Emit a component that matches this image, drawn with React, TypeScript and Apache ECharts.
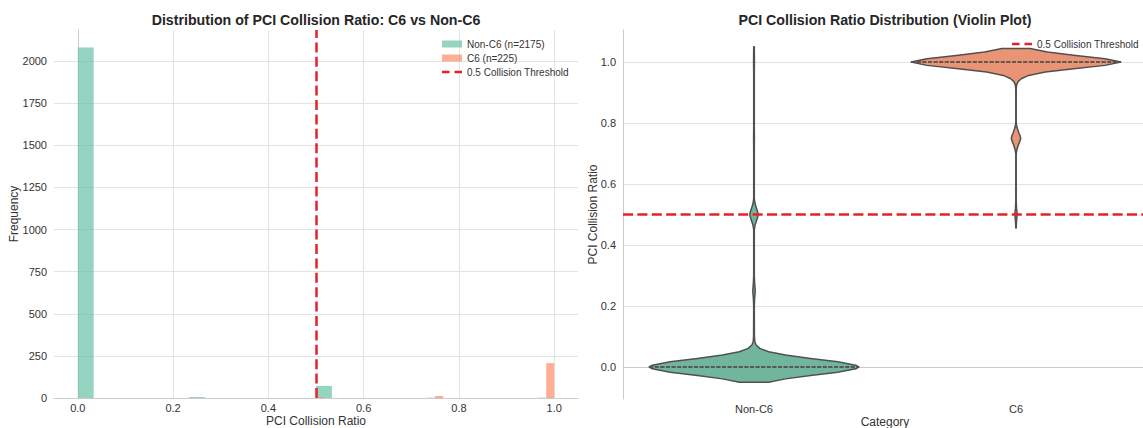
import React, { useEffect, useRef } from "react";
import * as echarts from "echarts";

const histTitle = "Distribution of PCI Collision Ratio: C6 vs Non-C6";
const violinTitle = "PCI Collision Ratio Distribution (Violin Plot)";
const categories = ["Non-C6", "C6"];
const histSeriesNames = ["Non-C6 (n=2175)", "C6 (n=225)"];
const thresholdName = "0.5 Collision Threshold";
const thresholdValue = 0.5;

// histogram bins: [bin start, bin end, count]
const nonC6Bins = [
  [0.0, 0.0333, 2080],
  [0.2333, 0.2667, 6],
  [0.5, 0.5333, 72],
  [0.7333, 0.7667, 2],
  [0.9667, 1.0, 2],
];
const c6Bins = [
  [0.5, 0.5167, 6],
  [0.75, 0.7667, 12],
  [0.9833, 1.0, 207],
];
const histXTicks = [0, 0.2, 0.4, 0.6, 0.8, 1.0];
const histYTicks = [0, 250, 500, 750, 1000, 1250, 1500, 1750, 2000];
const violinYTicks = [0, 0.2, 0.4, 0.6, 0.8, 1.0];

// violin outlines: [ratio value, relative width]
const nonC6Profile = [
  [-0.05, 0.14], [-0.039, 0.3], [-0.028, 0.54], [-0.017, 0.8], [-0.006, 0.97],
  [0.0, 1.0], [0.006, 0.97], [0.017, 0.8], [0.028, 0.54], [0.039, 0.3],
  [0.05, 0.14], [0.061, 0.055], [0.072, 0.02], [0.083, 0.008], [0.1, 0.004],
  [0.2, 0.003], [0.225, 0.006], [0.25, 0.012], [0.275, 0.006], [0.3, 0.003],
  [0.45, 0.003], [0.465, 0.01], [0.478, 0.022], [0.49, 0.034], [0.5, 0.04],
  [0.51, 0.034], [0.522, 0.022], [0.535, 0.01], [0.552, 0.003], [0.72, 0.003],
  [0.75, 0.004], [0.78, 0.003], [0.97, 0.003], [1.0, 0.004], [1.05, 0.003],
];
const c6Profile = [
  [0.456, 0.002], [0.48, 0.005], [0.49, 0.009], [0.5, 0.011], [0.51, 0.009],
  [0.52, 0.005], [0.545, 0.002], [0.7, 0.002], [0.715, 0.01], [0.73, 0.025],
  [0.74, 0.037], [0.75, 0.045], [0.76, 0.037], [0.77, 0.025], [0.785, 0.01],
  [0.8, 0.002], [0.91, 0.002], [0.925, 0.006], [0.935, 0.018], [0.945, 0.05],
  [0.956, 0.12], [0.967, 0.28], [0.978, 0.55], [0.989, 0.85], [1.0, 1.0],
  [1.011, 0.85], [1.022, 0.55], [1.033, 0.3], [1.044, 0.135],
];
const nonC6Quartiles = [0, 0, 0];
const c6Quartiles = [1, 1, 1];

const FONT = "'Liberation Sans', Arial, sans-serif";
const TEXT = "#333333";
const SPINE = "#cccccc";
const GRIDLINE = "#e3e3e3";
const RED = "#e8202a";
const HIST_COLORS = ["rgba(102,194,165,0.7)", "rgba(252,141,98,0.7)"];
const VIOLIN_COLORS = ["#71b69c", "#e99575"];
const OUTLINE = "#505050";
const DASH_ICON = "path://M0 0H7.5V2.6H0Z M12.5 0H20V2.6H12.5Z";

const profiles = [nonC6Profile, c6Profile];
const quartiles = [nonC6Quartiles, c6Quartiles];

function widthAt(profile: number[][], v: number): number {
  for (let i = 0; i < profile.length - 1; i++) {
    const [v0, w0] = profile[i];
    const [v1, w1] = profile[i + 1];
    if (v >= v0 && v <= v1) {
      const t = v1 === v0 ? 0 : (v - v0) / (v1 - v0);
      return w0 + (w1 - w0) * t;
    }
  }
  return 0;
}

export default function App() {
  const ref = useRef<HTMLDivElement>(null);

  useEffect(() => {
    if (!ref.current) return;
    const chart = echarts.init(ref.current, undefined, { renderer: "svg" });

    const histRender = (color: string) => (params: any, api: any) => {
      const p0 = api.coord([api.value(0), api.value(2)]);
      const p1 = api.coord([api.value(1), 0]);
      return {
        type: "rect",
        shape: { x: p0[0], y: p0[1], width: p1[0] - p0[0], height: p1[1] - p0[1] },
        style: { fill: color },
      };
    };

    const violinRender = (params: any, api: any) => {
      const idx = params.dataIndex;
      const prof = profiles[idx];
      const band = api.coord([1, 0])[0] - api.coord([0, 0])[0];
      const maxHW = band * 0.4;
      const cx = api.coord([idx, 0])[0];
      const rightSide = prof.map(([v, d]) => [cx + d * maxHW, api.coord([idx, v])[1]]);
      const leftSide = prof
        .slice()
        .reverse()
        .map(([v, d]) => [cx - d * maxHW, api.coord([idx, v])[1]]);
      const children: any[] = [
        {
          type: "polygon",
          shape: { points: rightSide.concat(leftSide) },
          style: { fill: VIOLIN_COLORS[idx], stroke: OUTLINE, lineWidth: 1.5, lineJoin: "round" },
        },
      ];
      quartiles[idx].forEach((q) => {
        const hw = widthAt(prof, q) * maxHW;
        const y = api.coord([idx, q])[1];
        children.push({
          type: "line",
          shape: { x1: cx - hw, y1: y, x2: cx + hw, y2: y },
          style: { stroke: OUTLINE, lineWidth: 1, lineDash: [4, 1.6] },
        });
      });
      return { type: "group", children };
    };

    const labelStyle = { color: TEXT, fontSize: 11, fontFamily: FONT };
    const nameStyle = { color: TEXT, fontSize: 12, fontFamily: FONT };
    const titleStyle = {
      fontSize: 14.2,
      fontWeight: "bold",
      fontFamily: FONT,
      fill: "#262626",
      align: "center",
      verticalAlign: "middle",
    };

    const option: any = {
      animation: false,
      textStyle: { fontFamily: FONT },
      graphic: [
        { type: "text", x: 316, y: 20, style: { ...titleStyle, text: histTitle } },
        { type: "text", x: 885, y: 20, style: { ...titleStyle, text: violinTitle } },
      ],
      legend: [
        {
          orient: "vertical",
          left: 437,
          top: 34,
          itemWidth: 20,
          itemHeight: 7,
          itemGap: 4,
          selectedMode: false,
          textStyle: { color: TEXT, fontSize: 10, fontFamily: FONT },
          data: [
            { name: histSeriesNames[0], icon: "rect", itemStyle: { color: HIST_COLORS[0] } },
            { name: histSeriesNames[1], icon: "rect", itemStyle: { color: HIST_COLORS[1] } },
            { name: thresholdName, icon: DASH_ICON, itemStyle: { color: RED } },
          ],
        },
        {
          orient: "vertical",
          left: 1007,
          top: 34,
          itemWidth: 20,
          itemHeight: 7,
          selectedMode: false,
          textStyle: { color: TEXT, fontSize: 10, fontFamily: FONT },
          data: [{ name: thresholdName, icon: DASH_ICON, itemStyle: { color: RED } }],
        },
      ],
      grid: [
        { left: 54, top: 30, width: 524, height: 368, outerBoundsMode: "none", containLabel: false },
        { left: 623, top: 30, width: 524, height: 369, outerBoundsMode: "none", containLabel: false },
      ],
      xAxis: [
        {
          type: "value",
          gridIndex: 0,
          min: -0.05,
          max: 1.05,
          name: "PCI Collision Ratio",
          nameLocation: "middle",
          nameGap: 17,
          nameMoveOverlap: false,
          nameTextStyle: nameStyle,
          axisLine: { show: true, lineStyle: { color: SPINE, width: 1 } },
          axisTick: { show: false, customValues: histXTicks },
          axisLabel: {
            ...labelStyle,
            margin: 4,
            customValues: histXTicks,
            formatter: (v: number) => v.toFixed(1),
          },
          splitLine: { show: true, lineStyle: { color: GRIDLINE, width: 1 } },
        },
        {
          type: "category",
          gridIndex: 1,
          data: categories,
          name: "Category",
          nameLocation: "middle",
          nameGap: 17,
          nameMoveOverlap: false,
          nameTextStyle: nameStyle,
          axisLine: { show: true, lineStyle: { color: SPINE, width: 1 } },
          axisTick: { show: false },
          axisLabel: { ...labelStyle, margin: 4 },
          splitLine: { show: false },
        },
      ],
      yAxis: [
        {
          type: "value",
          gridIndex: 0,
          min: 0,
          max: 2184,
          name: "Frequency",
          nameLocation: "middle",
          nameGap: 34,
          nameMoveOverlap: false,
          nameTextStyle: nameStyle,
          axisLine: { show: true, lineStyle: { color: SPINE, width: 1 } },
          axisTick: { show: false, customValues: histYTicks },
          axisLabel: {
            ...labelStyle,
            margin: 7,
            customValues: histYTicks,
            formatter: (v: number) => String(v),
          },
          splitLine: { show: true, lineStyle: { color: GRIDLINE, width: 1 } },
        },
        {
          type: "value",
          gridIndex: 1,
          min: -0.105,
          max: 1.105,
          name: "PCI Collision Ratio",
          nameLocation: "middle",
          nameGap: 24,
          nameMoveOverlap: false,
          nameTextStyle: nameStyle,
          axisLine: { show: true, lineStyle: { color: SPINE, width: 1 } },
          axisTick: { show: false, customValues: violinYTicks },
          axisLabel: {
            ...labelStyle,
            margin: 7,
            customValues: violinYTicks,
            formatter: (v: number) => v.toFixed(1),
          },
          splitLine: { show: true, lineStyle: { color: GRIDLINE, width: 1 } },
        },
      ],
      series: [
        {
          name: histSeriesNames[0],
          type: "custom",
          xAxisIndex: 0,
          yAxisIndex: 0,
          renderItem: histRender(HIST_COLORS[0]),
          encode: { x: [0, 1], y: 2 },
          itemStyle: { color: HIST_COLORS[0] },
          data: nonC6Bins,
          z: 2,
        },
        {
          name: histSeriesNames[1],
          type: "custom",
          xAxisIndex: 0,
          yAxisIndex: 0,
          renderItem: histRender(HIST_COLORS[1]),
          encode: { x: [0, 1], y: 2 },
          itemStyle: { color: HIST_COLORS[1] },
          data: c6Bins,
          z: 3,
        },
        {
          name: thresholdName,
          type: "line",
          xAxisIndex: 0,
          yAxisIndex: 0,
          data: [],
          z: 5,
          itemStyle: { color: RED },
          markLine: {
            silent: true,
            symbol: "none",
            label: { show: false },
            lineStyle: { color: RED, width: 2.5, type: [10, 4.4] },
            data: [{ xAxis: thresholdValue }],
          },
        },
        {
          name: "violins",
          type: "custom",
          xAxisIndex: 1,
          yAxisIndex: 1,
          renderItem: violinRender,
          encode: { x: 0, y: 1 },
          data: [
            [0, 0],
            [1, 1],
          ],
          z: 2,
        },
        {
          name: thresholdName,
          type: "line",
          xAxisIndex: 1,
          yAxisIndex: 1,
          data: [],
          z: 5,
          itemStyle: { color: RED },
          markLine: {
            silent: true,
            symbol: "none",
            label: { show: false },
            lineStyle: { color: RED, width: 2.5, type: [10, 4.4] },
            data: [{ yAxis: thresholdValue }],
          },
        },
      ],
    };

    chart.setOption(option);
    return () => chart.dispose();
  }, []);

  return (
    <div
      ref={ref}
      style={{ position: "absolute", left: 0, top: 0, width: 1143, height: 428 }}
    />
  );
}
